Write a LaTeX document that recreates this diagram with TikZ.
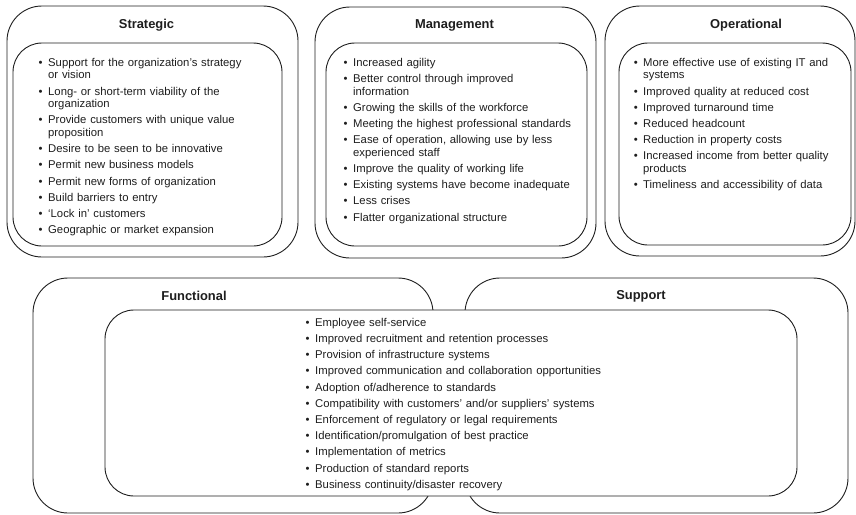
\documentclass[tikz,border=0pt]{standalone}
\usepackage{fontspec}
\setmainfont{Liberation Sans}
\usepackage{enumitem}
\usepackage{xcolor}
\definecolor{ink}{HTML}{1E1E1E}
\setlist[itemize]{label=\textbullet,leftmargin=9pt,labelsep=5.5pt,
  itemsep=3.6pt,parsep=0pt,topsep=0pt,partopsep=0pt}
\tikzset{
  outerbox/.style={draw=ink,fill=white,line width=0.9pt,
                   rounded corners=35pt,inner sep=0pt},
  innerbox/.style={draw=ink,fill=white,line width=0.9pt,
                   rounded corners=29pt,inner sep=0pt},
  boxtitle/.style={font=\fontsize{12.9}{15}\selectfont\bfseries,
                   inner sep=0pt,text=ink},
  itemlist/.style={anchor=north west,inner sep=0pt,text width=#1,
                   font=\fontsize{11.3}{12.6}\selectfont,text=ink}
}

\begin{document}
\begin{tikzpicture}[x=1pt,y=-1pt]
  \useasboundingbox (0,0) rectangle (856,514);

  % top row: strategic, management, operational
  \node[outerbox,minimum width=291pt,minimum height=251pt] (stratouter) at (152.5,131.5) {};
  \node[innerbox,minimum width=269pt,minimum height=203pt] (stratinner) at (147.5,144.5) {};
  \node[outerbox,minimum width=281pt,minimum height=251pt] (mgmtouter) at (455.5,132.5) {};
  \node[innerbox,minimum width=261pt,minimum height=203pt] (mgmtinner) at (456.5,144.5) {};
  \node[outerbox,minimum width=250pt,minimum height=250pt] (operouter) at (730,131) {};
  \node[innerbox,minimum width=232pt,minimum height=202pt] (operinner) at (735,144) {};

  \node[boxtitle] (strattitle) at (146.5,25) {Strategic};
  \node[boxtitle] (mgmttitle) at (454.5,25) {Management};
  \node[boxtitle] (opertitle) at (746,25) {Operational};

  \node[itemlist=230pt] (stratlist) at (39,53.5) {%
    \begin{itemize}
      \item Support for the organization’s strategy\newline or vision
      \item Long- or short-term viability of the\newline organization
      \item Provide customers with unique value\newline proposition
      \item Desire to be seen to be innovative
      \item Permit new business models
      \item Permit new forms of organization
      \item Build barriers to entry
      \item ‘Lock in’ customers
      \item Geographic or market expansion
    \end{itemize}};

  \node[itemlist=240pt] (mgmtlist) at (344,53.5) {%
    \begin{itemize}
      \item Increased agility
      \item Better control through improved\newline information
      \item Growing the skills of the workforce
      \item Meeting the highest professional standards
      \item Ease of operation, allowing use by less\newline experienced staff
      \item Improve the quality of working life
      \item Existing systems have become inadequate
      \item Less crises
      \item Flatter organizational structure
    \end{itemize}};

  \node[itemlist=210pt] (operlist) at (634,53.5) {%
    \begin{itemize}
      \item More effective use of existing IT and\newline systems
      \item Improved quality at reduced cost
      \item Improved turnaround time
      \item Reduced headcount
      \item Reduction in property costs
      \item Increased income from better quality\newline products
      \item Timeliness and accessibility of data
    \end{itemize}};

  % bottom row: functional and support share one list
  \node[outerbox,minimum width=400pt,minimum height=235pt] (funcouter) at (233,395.5) {};
  \node[outerbox,minimum width=383pt,minimum height=235pt] (suppouter) at (656.5,395.5) {};
  \node[innerbox,minimum width=692pt,minimum height=186pt] (shareinner) at (451,403) {};

  \node[boxtitle] (functitle) at (194,296) {Functional};
  \node[boxtitle] (supptitle) at (641,296) {Support};

  \node[itemlist=480pt] (sharelist) at (306,313.5) {%
    \begin{itemize}
      \item Employee self-service
      \item Improved recruitment and retention processes
      \item Provision of infrastructure systems
      \item Improved communication and collaboration opportunities
      \item Adoption of/adherence to standards
      \item Compatibility with customers’ and/or suppliers’ systems
      \item Enforcement of regulatory or legal requirements
      \item Identification/promulgation of best practice
      \item Implementation of metrics
      \item Production of standard reports
      \item Business continuity/disaster recovery
    \end{itemize}};
\end{tikzpicture}
\end{document}
